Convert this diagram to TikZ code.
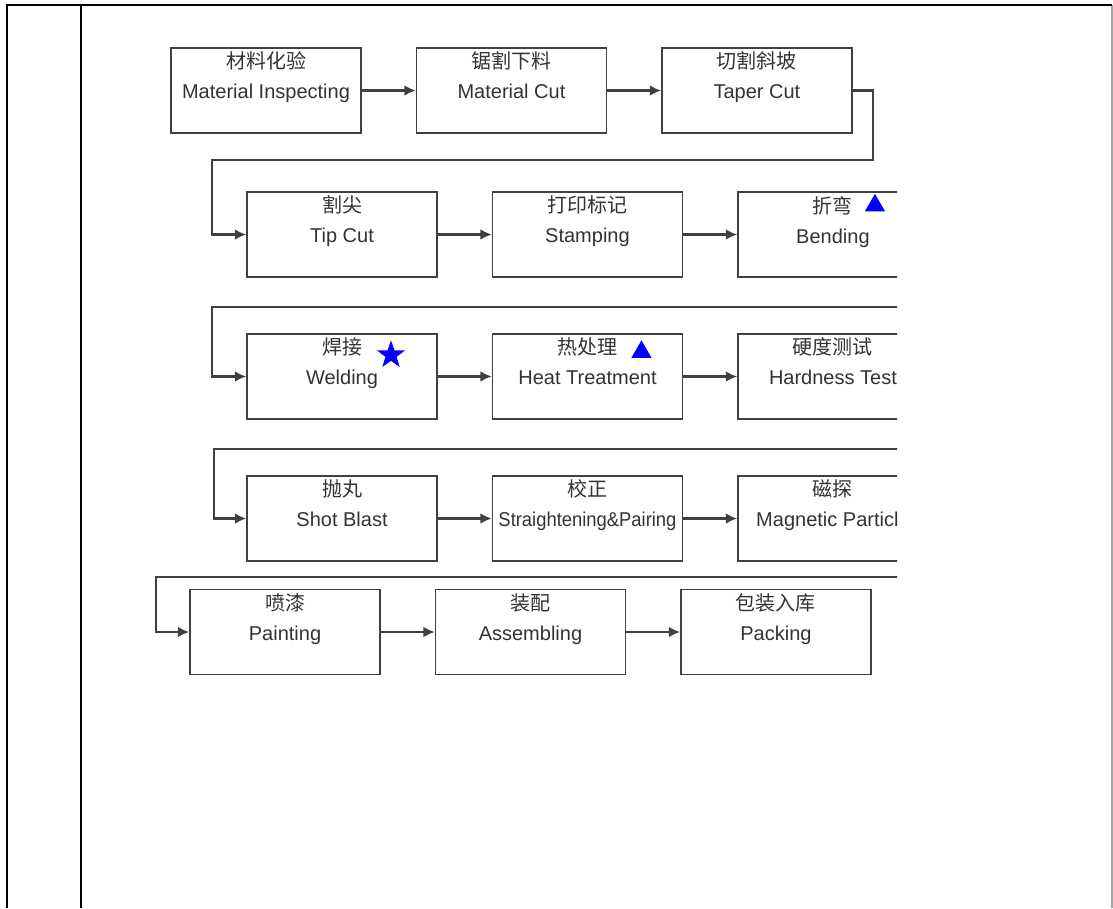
\documentclass[tikz,border=0pt]{standalone}
\usepackage{fontspec}
\setmainfont{Liberation Sans}
\newfontfamily\cjk{Noto Sans CJK SC}
\usetikzlibrary{positioning, shapes.geometric, arrows.meta, calc}
\tikzset{
    stepbox/.style={rectangle, draw=black!75, line width=1.1pt, minimum width=142.5pt, minimum height=63.75pt, align=center, inner sep=0pt, fill=white, text=black!80, font=\fontsize{15}{22.5}\selectfont},
    flow/.style={draw=black!75, line width=1.6pt, -{Latex[length=8.5pt,width=8pt]}},
    tri/.style={regular polygon, regular polygon sides=3, fill=blue, inner sep=0pt, minimum size=17.5pt},
    mark star/.style={star, star points=5, star point ratio=2.5, fill=blue, inner sep=0pt, minimum size=22pt}
}

\begin{document}
\begin{tikzpicture}[x=0.75pt, y=-0.75pt, node distance=40.5pt]
    \useasboundingbox (0,0) rectangle (1113,908);
    % table cell frame
    \draw[gray!70, line width=1.2pt] (1112,5) -- (1112,908);
    \draw[black, line width=1.5pt] (1112,5) -- (7,5) -- (7,908);
    \draw[black, line width=1.5pt] (81,5) -- (81,908);

    \begin{scope}
    \clip (90,40) rectangle (897,700);
    % row 1
    \node[stepbox] (mi) at (266,90.5) {{\cjk 材料化验}\\Material Inspecting\\\mbox{}};
    \node[stepbox, right=of mi] (mc) {{\cjk 锯割下料}\\Material Cut\\\mbox{}};
    \node[stepbox, right=of mc] (taper) {{\cjk 切割斜坡}\\Taper Cut\\\mbox{}};
    % row 2
    \node[stepbox] (tip) at (342,234.5) {{\cjk 割尖}\\Tip Cut\\\mbox{}};
    \node[stepbox, right=of tip] (stamp) {{\cjk 打印标记}\\Stamping\\\mbox{}};
    \node[stepbox, right=of stamp] (bend) {{\cjk 折弯}\\Bending\\\mbox{}};
    % row 3
    \node[stepbox] (weld) at (342,376.5) {{\cjk 焊接}\\Welding\\\mbox{}};
    \node[stepbox, right=of weld] (heat) {{\cjk 热处理}\\Heat Treatment\\\mbox{}};
    \node[stepbox, right=of heat] (hard) {{\cjk 硬度测试}\\Hardness Test\\\mbox{}};
    % row 4
    \node[stepbox] (shot) at (342,518.5) {{\cjk 抛丸}\\Shot Blast\\\mbox{}};
    \node[stepbox, right=of shot] (straight) {{\cjk 校正}\\\scalebox{0.92}[1]{Straightening\&Pairing}\\\mbox{}};
    \node[stepbox, right=of straight] (magn) {{\cjk 磁探}\\Magnetic Particle\\\mbox{}};
    % row 5
    \node[stepbox] (paint) at (285,632) {{\cjk 喷漆}\\Painting\\\mbox{}};
    \node[stepbox, right=of paint] (assem) {{\cjk 装配}\\Assembling\\\mbox{}};
    \node[stepbox, right=of assem] (pack) {{\cjk 包装入库}\\Packing\\\mbox{}};

    % key process marks
    \node[tri] (bendmark) at ([shift={(42,-29)}]bend.center) {};
    \node[tri] (heatmark) at ([shift={(54,-24.5)}]heat.center) {};
    \node[mark star] (weldmark) at ([shift={(49,-21.5)}]weld.center) {};

    % arrows inside each row
    \foreach \a/\b in {mi/mc, mc/taper, tip/stamp, stamp/bend, weld/heat, heat/hard, shot/straight, straight/magn, paint/assem, assem/pack}
        \draw[flow] (\a) -- (\b);

    % row to row
    \draw[flow] (taper.east) -- ++(20,0) -- ++(0,69.5) -| ($(tip.west)-(34,0)$) -- (tip.west);
    \draw[flow] (bend.east) -- ++(27,0) -- ++(0,72.5) -| ($(weld.west)-(34,0)$) -- (weld.west);
    \draw[flow] (hard.east) -- ++(27,0) -- ++(0,72.5) -| ($(shot.west)-(32,0)$) -- (shot.west);
    \draw[flow] (magn.east) -- ++(27,0) -- ++(0,58.5) -| ($(paint.west)-(33,0)$) -- (paint.west);
    \end{scope}
\end{tikzpicture}
\end{document}
